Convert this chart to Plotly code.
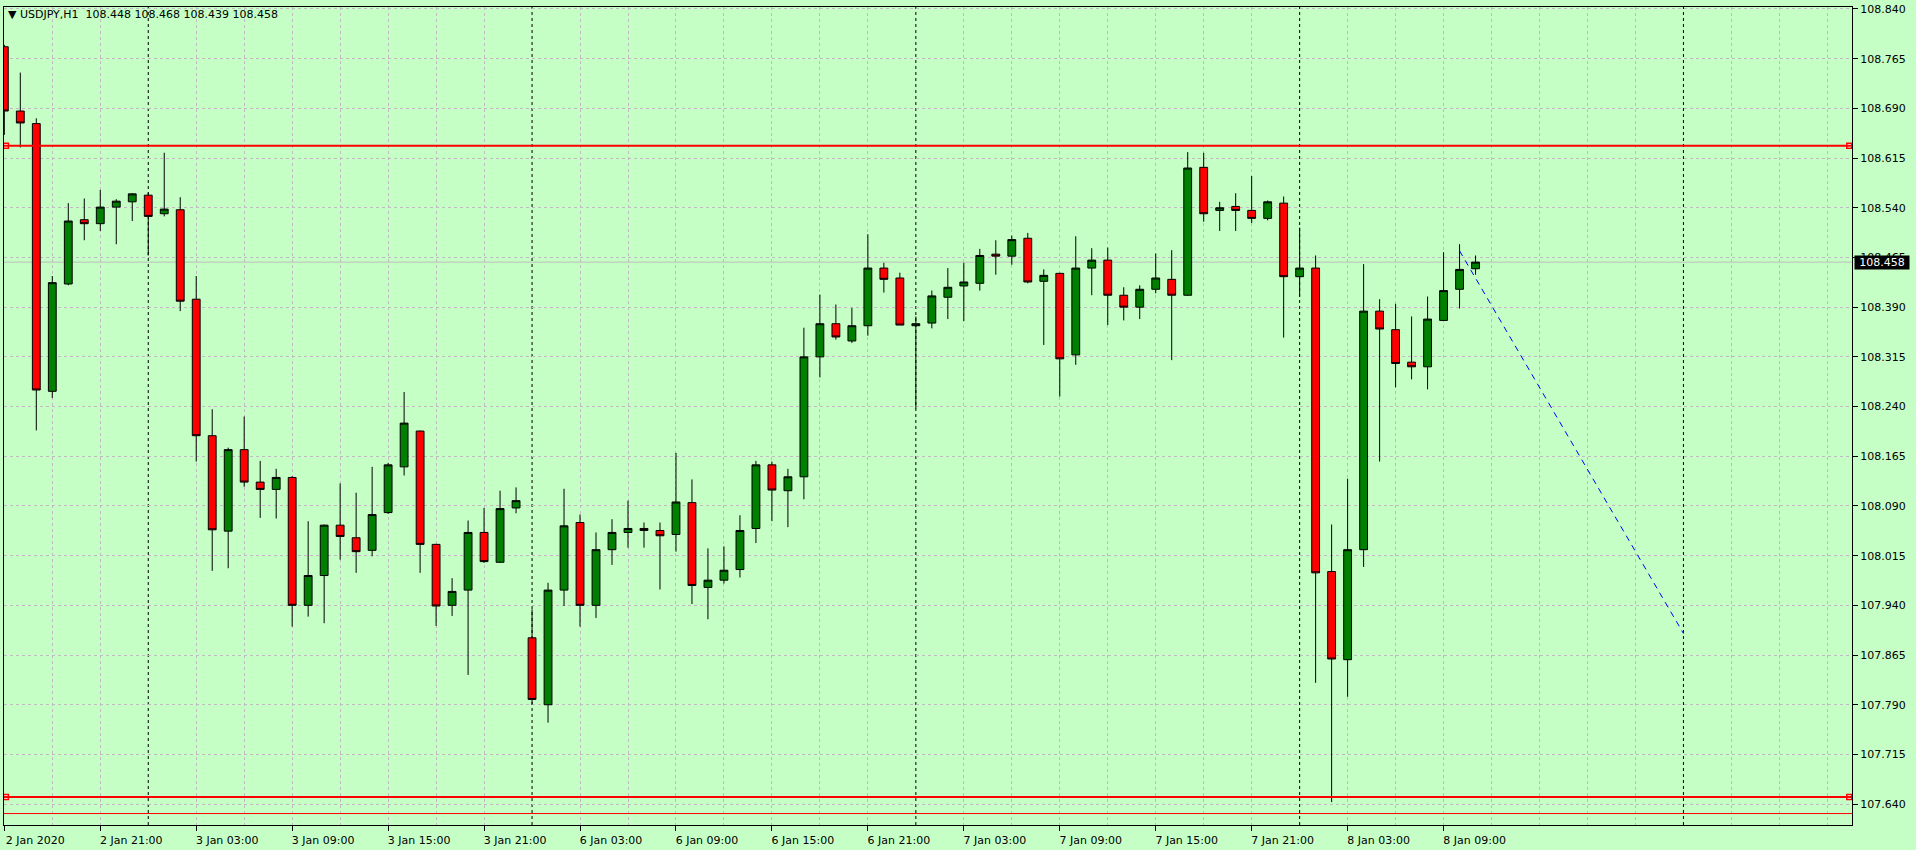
import plotly.graph_objects as go

# USDJPY H1 bars, 2 Jan 2020 15:00 .. 8 Jan 2020 11:00 (one entry per bar)
OPEN = [108.783, 108.686, 108.667, 108.263, 108.425, 108.522, 108.516, 108.541, 108.549, 108.559,
        108.531, 108.537, 108.402, 108.196, 108.052, 108.175, 108.126, 108.115, 108.133, 107.940,
        107.985, 108.061, 108.042, 108.023, 108.080, 108.149, 108.203, 108.032, 107.940, 107.963,
        108.050, 108.005, 108.087, 107.891, 107.790, 107.963, 108.065, 107.940, 108.024, 108.050,
        108.056, 108.053, 108.047, 108.095, 107.967, 107.978, 107.994, 108.056, 108.152, 108.113,
        108.134, 108.315, 108.365, 108.339, 108.362, 108.449, 108.434, 108.362, 108.366, 108.405,
        108.422, 108.426, 108.470, 108.467, 108.494, 108.429, 108.441, 108.318, 108.449, 108.461,
        108.408, 108.390, 108.417, 108.432, 108.408, 108.601, 108.536, 108.542, 108.536, 108.524,
        108.547, 108.436, 108.449, 107.991, 107.858, 108.024, 108.384, 108.356, 108.307, 108.300,
        108.370, 108.417, 108.448]
HIGH = [108.786, 108.744, 108.675, 108.437, 108.547, 108.554, 108.567, 108.553, 108.562, 108.563,
        108.623, 108.556, 108.437, 108.236, 108.178, 108.225, 108.158, 108.146, 108.135, 108.067,
        108.062, 108.124, 108.110, 108.149, 108.155, 108.262, 108.204, 108.033, 107.981, 108.068,
        108.087, 108.113, 108.118, 107.934, 107.974, 108.116, 108.077, 108.050, 108.070, 108.098,
        108.065, 108.065, 108.170, 108.130, 108.026, 108.029, 108.076, 108.158, 108.157, 108.146,
        108.359, 108.409, 108.394, 108.389, 108.500, 108.457, 108.442, 108.376, 108.415, 108.449,
        108.457, 108.478, 108.491, 108.498, 108.502, 108.447, 108.442, 108.497, 108.479, 108.480,
        108.420, 108.423, 108.471, 108.476, 108.624, 108.623, 108.549, 108.562, 108.588, 108.551,
        108.557, 108.510, 108.468, 108.062, 108.131, 108.455, 108.402, 108.395, 108.376, 108.406,
        108.473, 108.485, 108.468]
LOW = [108.650, 108.631, 108.204, 108.253, 108.423, 108.491, 108.505, 108.485, 108.520, 108.468,
       108.527, 108.384, 108.157, 107.992, 107.996, 108.119, 108.072, 108.071, 107.908, 107.923,
       107.913, 108.009, 107.989, 108.014, 108.078, 108.136, 107.989, 107.909, 107.924, 107.835,
       108.004, 108.004, 108.079, 107.790, 107.763, 107.939, 107.908, 107.921, 108.001, 108.027,
       108.027, 107.964, 108.021, 107.942, 107.919, 107.973, 107.982, 108.034, 108.067, 108.058,
       108.100, 108.284, 108.341, 108.336, 108.347, 108.412, 108.363, 108.237, 108.358, 108.372,
       108.369, 108.415, 108.439, 108.454, 108.426, 108.333, 108.255, 108.303, 108.408, 108.363,
       108.370, 108.372, 108.411, 108.310, 108.407, 108.519, 108.505, 108.505, 108.517, 108.521,
       108.344, 108.406, 107.823, 107.643, 107.802, 107.998, 108.157, 108.269, 108.281, 108.266,
       108.369, 108.388, 108.439]
CLOSE = [108.686, 108.668, 108.265, 108.427, 108.520, 108.516, 108.541, 108.550, 108.561, 108.527,
         108.538, 108.399, 108.196, 108.054, 108.175, 108.126, 108.115, 108.133, 107.940, 107.985,
         108.061, 108.044, 108.021, 108.077, 108.152, 108.215, 108.032, 107.939, 107.961, 108.050,
         108.006, 108.086, 108.098, 107.798, 107.963, 108.060, 107.940, 108.024, 108.050, 108.056,
         108.053, 108.045, 108.096, 107.970, 107.978, 107.993, 108.053, 108.152, 108.114, 108.134,
         108.315, 108.365, 108.345, 108.362, 108.449, 108.432, 108.363, 108.365, 108.407, 108.420,
         108.428, 108.468, 108.467, 108.492, 108.428, 108.438, 108.312, 108.449, 108.461, 108.408,
         108.390, 108.417, 108.434, 108.408, 108.600, 108.531, 108.540, 108.536, 108.524, 108.549,
         108.436, 108.449, 107.989, 107.859, 108.024, 108.384, 108.357, 108.305, 108.300, 108.372,
         108.415, 108.447, 108.458]
BARS = list(range(len(OPEN)))

TICK_BARS = [0, 6, 12, 18, 24, 30, 36, 42, 48, 54, 60, 66, 72, 78, 84, 90]
TICK_LABELS = ["2 Jan 2020", "2 Jan 21:00", "3 Jan 03:00", "3 Jan 09:00", "3 Jan 15:00",
               "3 Jan 21:00", "6 Jan 03:00", "6 Jan 09:00", "6 Jan 15:00", "6 Jan 21:00",
               "7 Jan 03:00", "7 Jan 09:00", "7 Jan 15:00", "7 Jan 21:00", "8 Jan 03:00",
               "8 Jan 09:00"]
PRICE_TICKS = [107.640, 107.715, 107.790, 107.865, 107.940, 108.015, 108.090, 108.165, 108.240,
               108.315, 108.390, 108.465, 108.540, 108.615, 108.690, 108.765, 108.840]

DAY_BREAKS = [9, 33, 57, 81, 105]          # period separators (00:00 bars)
LEVELS_THICK = [108.6335, 107.6507]        # selected horizontal lines
LEVELS_THIN = [107.6258]
TREND_X = [91, 105]
TREND_Y = [108.475, 107.8975]

X_RANGE = [-0.02, 115.54]
Y_RANGE = [107.6085, 108.843]

# vertical grid every 3 bars, except where a day separator is drawn
GRID_BARS = [b for b in range(0, 116, 3) if b not in DAY_BREAKS]

BG = "#C5FFC5"
GRID = "#C4B8C4"
FONT = "DejaVu Sans"

fig = go.Figure()

# day separators and bid line sit under the candles
for d in DAY_BREAKS:
    fig.add_vline(x=d, line=dict(color="black", width=1, dash="3px,3px"), layer="below")
fig.add_hline(y=CLOSE[-1], line=dict(color="#BDBDBD", width=1), layer="below")

fig.add_trace(go.Candlestick(
    x=BARS, open=OPEN, high=HIGH, low=LOW, close=CLOSE,
    increasing=dict(fillcolor="#008000", line=dict(color="black", width=1)),
    decreasing=dict(fillcolor="#FF0000", line=dict(color="black", width=1)),
    whiskerwidth=0, hoverinfo="skip", showlegend=False,
))

# trend line
fig.add_trace(go.Scatter(
    x=TREND_X, y=TREND_Y, mode="lines",
    line=dict(color="#0000FF", width=1, dash="6px,5px"),
    hoverinfo="skip", showlegend=False,
))

# horizontal levels and their selection handles
for lv in LEVELS_THICK:
    fig.add_hline(y=lv, line=dict(color="#FF0000", width=2), layer="above")
for lv in LEVELS_THIN:
    fig.add_hline(y=lv, line=dict(color="#FF0000", width=1), layer="above")
fig.add_trace(go.Scatter(
    x=[X_RANGE[0] + 0.12, X_RANGE[1] - 0.17] * len(LEVELS_THICK),
    y=[v for v in LEVELS_THICK for _ in range(2)],
    mode="markers",
    marker=dict(symbol="square", size=5, color="white", line=dict(color="#FF0000", width=1.5)),
    hoverinfo="skip", showlegend=False,
))

title = "▼\u00a0USDJPY,H1\u00a0\u00a0{:.3f} {:.3f} {:.3f} {:.3f}".format(OPEN[-1], HIGH[-1], LOW[-1], CLOSE[-1])
fig.add_annotation(text=title, xref="paper", yref="paper", x=0, y=1, xanchor="left", yanchor="top",
                   xshift=2, yshift=1, showarrow=False, font=dict(family=FONT, size=11, color="black"))
fig.add_annotation(text="{:.3f}".format(CLOSE[-1]), xref="paper", yref="y", x=1, y=CLOSE[-1],
                   xanchor="left", yanchor="middle", xshift=2, showarrow=False,
                   bgcolor="black", width=54, height=13, borderpad=0,
                   font=dict(family=FONT, size=11, color="white"))

fig.update_layout(
    width=1916, height=850,
    margin=dict(l=3, r=64, t=3, b=24),
    paper_bgcolor=BG, plot_bgcolor=BG,
    font=dict(family=FONT, size=11, color="black"),
    showlegend=False,
    xaxis=dict(
        range=X_RANGE, rangeslider=dict(visible=False),
        tickmode="array", tickvals=TICK_BARS, ticktext=TICK_LABELS,
        ticks="outside", ticklen=5, tickcolor="black", ticklabelshift=31,
        ticklabeloverflow="allow",
        showgrid=True, gridcolor=GRID, griddash="3px,3px", gridwidth=1,
        minor=dict(tickmode="array", tickvals=GRID_BARS, showgrid=True, gridcolor=GRID,
                   griddash="3px,3px", gridwidth=1, ticks=""),
        showline=True, linecolor="black", linewidth=1, mirror=True, zeroline=False,
        fixedrange=True,
    ),
    yaxis=dict(
        range=Y_RANGE, side="right",
        tickmode="array", tickvals=PRICE_TICKS, ticktext=["{:.3f}".format(v) for v in PRICE_TICKS],
        ticks="outside", ticklen=5, tickcolor="black", ticklabeloverflow="allow",
        showgrid=True, gridcolor=GRID, griddash="3px,3px", gridwidth=1,
        showline=True, linecolor="black", linewidth=1, mirror=True, zeroline=False,
        fixedrange=True,
    ),
)

fig.write_html("out.html", config={"displayModeBar": False},
               post_script="document.body.style.margin='0';document.body.style.overflow='hidden';")
